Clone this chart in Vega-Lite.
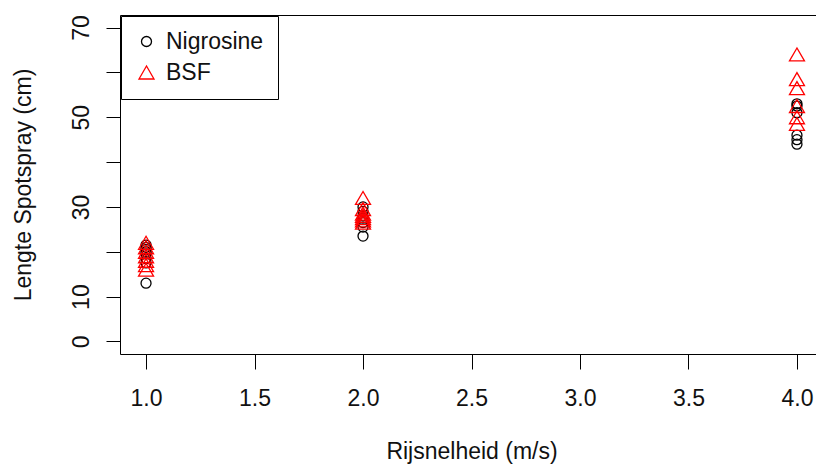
{
  "$schema": "https://vega.github.io/schema/vega-lite/v6.json",
  "autosize": {"type": "none"},
  "padding": {"left": 120, "top": 15, "right": 0, "bottom": 114},
  "width": 703,
  "height": 339,
  "background": "white",
  "config": {
    "view": {"stroke": "black", "strokeWidth": 1},
    "font": "Liberation Sans",
    "axis": {
      "domain": false,
      "grid": false,
      "tickColor": "black",
      "tickWidth": 1,
      "labelColor": "#111",
      "titleColor": "#111",
      "labelFont": "Liberation Sans",
      "titleFont": "Liberation Sans",
      "labelFontSize": 23,
      "titleFontSize": 23,
      "titleFontWeight": "normal",
      "labelFlush": false,
      "labelOverlap": false,
      "labelBound": false
    }
  },
  "data": {
    "values": [
      {"speed": 1, "length": 13.0, "dye": "Nigrosine"},
      {"speed": 1, "length": 17.5, "dye": "Nigrosine"},
      {"speed": 1, "length": 18.5, "dye": "Nigrosine"},
      {"speed": 1, "length": 19.5, "dye": "Nigrosine"},
      {"speed": 1, "length": 20.0, "dye": "Nigrosine"},
      {"speed": 1, "length": 20.5, "dye": "Nigrosine"},
      {"speed": 1, "length": 21.0, "dye": "Nigrosine"},
      {"speed": 1, "length": 21.5, "dye": "Nigrosine"},
      {"speed": 2, "length": 23.5, "dye": "Nigrosine"},
      {"speed": 2, "length": 25.5, "dye": "Nigrosine"},
      {"speed": 2, "length": 26.5, "dye": "Nigrosine"},
      {"speed": 2, "length": 27.5, "dye": "Nigrosine"},
      {"speed": 2, "length": 28.0, "dye": "Nigrosine"},
      {"speed": 2, "length": 29.0, "dye": "Nigrosine"},
      {"speed": 2, "length": 30.0, "dye": "Nigrosine"},
      {"speed": 4, "length": 53.0, "dye": "Nigrosine"},
      {"speed": 4, "length": 52.5, "dye": "Nigrosine"},
      {"speed": 4, "length": 51.0, "dye": "Nigrosine"},
      {"speed": 4, "length": 46.0, "dye": "Nigrosine"},
      {"speed": 4, "length": 45.0, "dye": "Nigrosine"},
      {"speed": 4, "length": 44.0, "dye": "Nigrosine"},
      {"speed": 1, "length": 16.0, "dye": "BSF"},
      {"speed": 1, "length": 17.0, "dye": "BSF"},
      {"speed": 1, "length": 18.0, "dye": "BSF"},
      {"speed": 1, "length": 19.0, "dye": "BSF"},
      {"speed": 1, "length": 20.0, "dye": "BSF"},
      {"speed": 1, "length": 21.0, "dye": "BSF"},
      {"speed": 1, "length": 22.0, "dye": "BSF"},
      {"speed": 2, "length": 26.5, "dye": "BSF"},
      {"speed": 2, "length": 27.0, "dye": "BSF"},
      {"speed": 2, "length": 27.5, "dye": "BSF"},
      {"speed": 2, "length": 28.0, "dye": "BSF"},
      {"speed": 2, "length": 28.5, "dye": "BSF"},
      {"speed": 2, "length": 29.5, "dye": "BSF"},
      {"speed": 2, "length": 32.0, "dye": "BSF"},
      {"speed": 4, "length": 64.0, "dye": "BSF"},
      {"speed": 4, "length": 58.5, "dye": "BSF"},
      {"speed": 4, "length": 56.5, "dye": "BSF"},
      {"speed": 4, "length": 52.5, "dye": "BSF"},
      {"speed": 4, "length": 50.0, "dye": "BSF"},
      {"speed": 4, "length": 48.5, "dye": "BSF"}
    ]
  },
  "mark": {"type": "point", "filled": false, "strokeWidth": 1.3, "opacity": 1},
  "encoding": {
    "x": {
      "field": "speed",
      "type": "quantitative",
      "title": "Rijsnelheid (m/s)",
      "scale": {"domain": [0.88, 4.12], "nice": false, "zero": false},
      "axis": {
        "values": [1, 1.5, 2, 2.5, 3, 3.5, 4],
        "format": ".1f",
        "tickSize": 15,
        "labelBaseline": "alphabetic",
        "labelPadding": 36,
        "titleBaseline": "alphabetic",
        "titleY": 104
      }
    },
    "y": {
      "field": "length",
      "type": "quantitative",
      "title": "Lengte Spotspray (cm)",
      "scale": {"domain": [-2.8, 72.8], "nice": false, "zero": false},
      "axis": {
        "values": [0, 10, 20, 30, 40, 50, 60, 70],
        "labelExpr": "datum.value == 0 || datum.value % 20 == 10 ? datum.label : ''",
        "tickSize": 14,
        "labelAngle": 270,
        "labelAlign": "center",
        "labelBaseline": "alphabetic",
        "labelPadding": 18,
        "titleAngle": 270,
        "titleAlign": "center",
        "titleBaseline": "alphabetic",
        "titleX": -90,
        "titleY": 169.5
      }
    },
    "color": {
      "field": "dye",
      "type": "nominal",
      "title": null,
      "scale": {"domain": ["Nigrosine", "BSF"], "range": ["#000000", "#ff0000"]},
      "legend": {
        "orient": "none",
        "legendX": 1,
        "legendY": 1,
        "strokeColor": "black",
        "fillColor": "white",
        "padding": 14,
        "labelOffset": 8,
        "rowPadding": 7,
        "labelFont": "Liberation Sans",
        "labelFontSize": 23,
        "labelColor": "#111",
        "symbolStrokeWidth": 1.3,
        "symbolFillColor": "transparent",
        "cornerRadius": 0
      }
    },
    "shape": {
      "field": "dye",
      "type": "nominal",
      "scale": {"domain": ["Nigrosine", "BSF"], "range": ["circle", "triangle-up"]}
    },
    "size": {
      "field": "dye",
      "type": "nominal",
      "scale": {"domain": ["Nigrosine", "BSF"], "range": [100, 225]}
    }
  }
}
